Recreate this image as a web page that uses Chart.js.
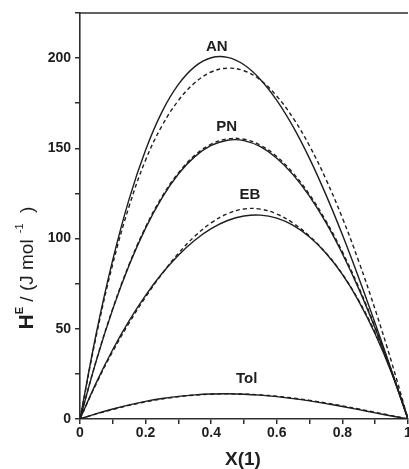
<!DOCTYPE html>
<html>
<head>
<meta charset="utf-8">
<script src="https://cdn.jsdelivr.net/npm/chart.js@4.4.0/dist/chart.umd.min.js"></script>
<style>
  html, body { margin: 0; padding: 0; background: #fff; }
  #wrap { width: 409px; height: 469px; position: relative; }
</style>
</head>
<body>
<div id="wrap"><canvas id="chart"></canvas></div>
<script>
// mole fraction X(1)
const xValues = [0, 0.05, 0.10, 0.15, 0.20, 0.25, 0.30, 0.35, 0.40, 0.45, 0.50,
                 0.55, 0.60, 0.65, 0.70, 0.75, 0.80, 0.85, 0.90, 0.95, 1];

// solid = experimental fit, dashed = predicted
const anExp  = [0, 47.8, 88.3, 122.0, 149.1, 170.2, 185.4, 195.3, 200.2, 200.4, 196.3,
                188.2, 176.6, 161.9, 144.3, 124.2, 102.1, 78.2, 53.0, 26.8, 0];
const anCalc = [0, 46.5, 86.0, 118.0, 143.5, 162.5, 176.5, 186.3, 192.3, 194.4, 193.0,
                187.8, 178.9, 166.7, 151.3, 132.8, 111.4, 87.3, 60.6, 31.5, 0];
const pnExp  = [0, 32.5, 60.9, 85.3, 105.8, 122.6, 135.8, 145.4, 151.6, 154.5, 154.3,
                150.9, 144.5, 135.3, 123.4, 108.8, 91.6, 72.1, 50.2, 26.1, 0];
const pnCalc = [0, 32.7, 61.3, 85.8, 106.4, 123.2, 136.4, 146.1, 152.3, 155.2, 155.0,
                151.7, 145.4, 136.2, 124.3, 109.7, 92.6, 72.9, 50.9, 26.6, 0];
const ebExp  = [0, 20.3, 38.5, 54.5, 68.5, 80.6, 90.8, 99.1, 105.5, 110.0, 112.5,
                113.0, 111.3, 107.3, 100.9, 91.9, 80.1, 65.2, 47.1, 25.5, 0];
const ebCalc = [0, 19.8, 37.5, 53.3, 67.6, 80.4, 91.8, 101.3, 108.7, 113.8, 116.4,
                116.3, 113.6, 108.5, 101.3, 92.0, 80.3, 65.6, 47.8, 26.0, 0];
const tolExp  = [0, 2.95, 5.57, 7.85, 9.78, 11.34, 12.54, 13.37, 13.84, 13.96, 13.75,
                 13.22, 12.40, 11.32, 10.02, 8.53, 6.90, 5.17, 3.41, 1.66, 0];
const tolCalc = [0, 2.8, 5.3, 7.55, 9.5, 11.1, 12.35, 13.25, 13.75, 13.95, 13.8,
                 13.35, 12.6, 11.6, 10.35, 8.9, 7.3, 5.55, 3.75, 1.9, 0];

const xTickLabels = ['0', '0.2', '0.4', '0.6', '0.8', '1'];
const yTickLabels = ['0', '50', '100', '150', '200'];

// curve names and where they sit (data coords)
const curveNames = ['AN', 'PN', 'EB', 'Tol'];
const nameX = [0.417, 0.447, 0.518, 0.508];
const nameY = [206, 161.8, 124, 22.2];

const INK = '#1e1e1e';
const AXIS = '#2e2e2e';
const FONT = "'Liberation Sans', Arial, sans-serif";

function pts(arr) {
    return xValues.map((x, i) => ({ x: x, y: arr[i] }));
}

function line(arr, dashed) {
    return {
        data: pts(arr),
        showLine: true,
        borderColor: INK,
        borderWidth: 1.4,
        borderDash: dashed ? [4, 3] : [],
        pointRadius: 0,
        fill: false,
        tension: 0.4
    };
}

// top border, curve names and axis titles
const decor = {
    id: 'decor',
    afterDraw(chart) {
        const ctx = chart.ctx;
        const a = chart.chartArea;
        const xs = chart.scales.x;
        const ys = chart.scales.y;
        ctx.save();

        ctx.strokeStyle = AXIS;
        ctx.lineWidth = 1.6;
        ctx.beginPath();
        ctx.moveTo(a.left, a.top);
        ctx.lineTo(a.right, a.top);
        ctx.stroke();

        ctx.fillStyle = INK;
        ctx.font = 'bold 15px ' + FONT;
        ctx.textAlign = 'center';
        ctx.textBaseline = 'middle';
        curveNames.forEach((n, i) => {
            ctx.fillText(n, xs.getPixelForValue(nameX[i]), ys.getPixelForValue(nameY[i]));
        });

        // x title
        ctx.font = 'bold 19px ' + FONT;
        ctx.fillText('X(1)', 243, 460);

        // y title with superscripts, rotated
        const parts = [
            { t: 'H', f: 'bold 21px ' + FONT, dy: 0 },
            { t: 'E', f: 'bold 11px ' + FONT, dy: -10 },
            { t: ' / (J mol', f: '19px ' + FONT, dy: 0 },
            { t: '  -1', f: '11px ' + FONT, dy: -10 },
            { t: '  )', f: '19px ' + FONT, dy: 0 }
        ];
        let total = 0;
        parts.forEach(p => { ctx.font = p.f; p.w = ctx.measureText(p.t).width; total += p.w; });
        ctx.translate(33, 268);
        ctx.rotate(-Math.PI / 2);
        ctx.textAlign = 'left';
        ctx.textBaseline = 'alphabetic';
        let cx = -total / 2;
        parts.forEach(p => {
            ctx.font = p.f;
            ctx.fillText(p.t, cx, p.dy);
            cx += p.w;
        });
        ctx.restore();
    }
};

new Chart(document.getElementById('chart'), {
    type: 'scatter',
    data: {
        datasets: [
            line(anExp, false), line(anCalc, true),
            line(pnExp, false), line(pnCalc, true),
            line(ebExp, false), line(ebCalc, true),
            line(tolExp, false), line(tolCalc, true)
        ]
    },
    options: {
        responsive: true,
        maintainAspectRatio: false,
        animation: false,
        layout: { padding: { top: 13, right: 1, left: 0, bottom: 0 } },
        plugins: { legend: { display: false }, tooltip: { enabled: false } },
        scales: {
            x: {
                type: 'linear',
                min: 0,
                max: 1,
                afterFit(scale) {
                    scale.paddingLeft = 0;
                    scale.paddingRight = 0;
                    scale.height = 50;
                },
                ticks: {
                    stepSize: 0.1,
                    autoSkip: false,
                    maxRotation: 0,
                    padding: 1,
                    color: INK,
                    font: { family: FONT, size: 14, weight: 'bold' },
                    callback: (v, i) => (i % 2 === 0 ? xTickLabels[i / 2] : '')
                },
                grid: { drawOnChartArea: false, tickLength: 5, color: AXIS, lineWidth: 1.5 },
                border: { color: AXIS, width: 1.6 }
            },
            y: {
                min: 0,
                max: 225,
                afterFit(scale) {
                    scale.width = 80;
                    scale.paddingTop = 0;
                    scale.paddingBottom = 0;
                },
                ticks: {
                    stepSize: 25,
                    autoSkip: false,
                    padding: 4,
                    color: INK,
                    font: { family: FONT, size: 14, weight: 'bold' },
                    callback: (v, i) => (i % 2 === 0 ? yTickLabels[i / 2] : '')
                },
                grid: { drawOnChartArea: false, tickLength: 5, color: AXIS, lineWidth: 1.5 },
                border: { color: AXIS, width: 1.6 }
            }
        }
    },
    plugins: [decor]
});
</script>
</body>
</html>
